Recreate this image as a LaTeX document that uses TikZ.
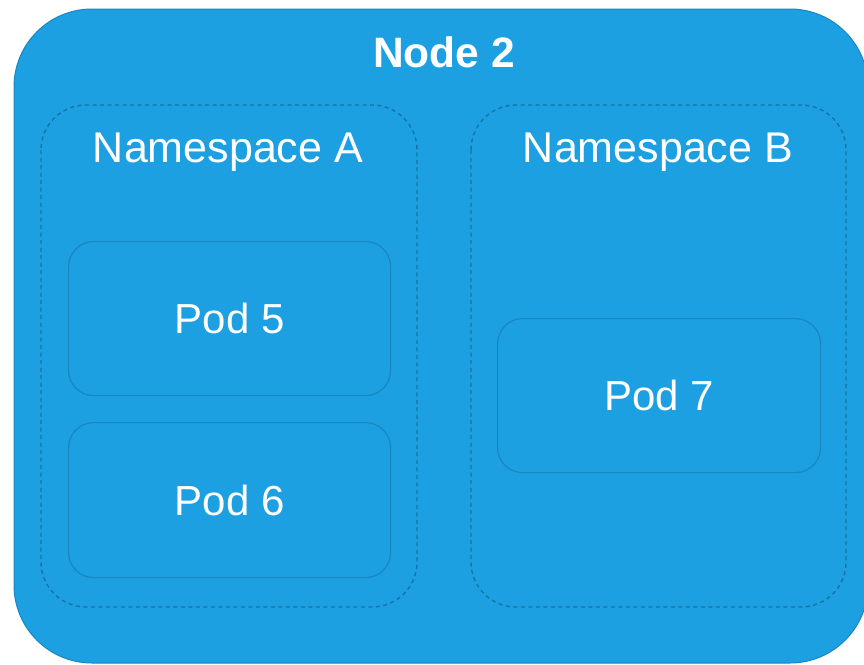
\documentclass[tikz,border=0pt]{standalone}
\usepackage{fontspec}
\setmainfont{Liberation Sans}
\definecolor{fillblue}{HTML}{1CA0E1}
\definecolor{edgeblue}{HTML}{1A86C0}
\definecolor{dashblue}{HTML}{1672A8}
\begin{document}
\begin{tikzpicture}[x=1pt,y=-1pt,
  outerbox/.style={fill=fillblue,draw=edgeblue,line width=1pt,rounded corners=78pt},
  nsbox/.style={draw=dashblue,line width=1.4pt,dash pattern=on 4pt off 3.5pt,rounded corners=45pt},
  podbox/.style={draw=edgeblue,line width=1.2pt,rounded corners=25pt},
  lbl/.style={text=white,font=\fontsize{42}{42}\selectfont,inner sep=0pt,anchor=base}]
\useasboundingbox (0,0) rectangle (864,664);
\begin{scope}
\clip (0,0) rectangle (864,664);
\draw[outerbox] (14,9) rectangle (868,663);
\end{scope}
\node[lbl,font=\fontsize{42.5}{42}\selectfont\bfseries] (title) at (444,67) {Node 2};
\draw[nsbox] (41,105) rectangle (417,607);
\draw[nsbox] (471,105) rectangle (846,607);
\node[lbl,font=\fontsize{43}{43}\selectfont] (nsa) at (228,162) {Namespace A};
\node[lbl,font=\fontsize{43}{43}\selectfont] (nsb) at (658,162) {Namespace B};
\node[podbox,minimum width=322pt,minimum height=154pt,anchor=north west] (p5) at (68,241) {};
\node[podbox,minimum width=322pt,minimum height=155pt,anchor=north west] (p6) at (68,422) {};
\node[podbox,minimum width=323pt,minimum height=154pt,anchor=north west] (p7) at (497,318) {};
\node[lbl,anchor=center] at (p5.center) {Pod 5};
\node[lbl,anchor=center] at (p6.center) {Pod 6};
\node[lbl,anchor=center] at (p7.center) {Pod 7};
\end{tikzpicture}
\end{document}
